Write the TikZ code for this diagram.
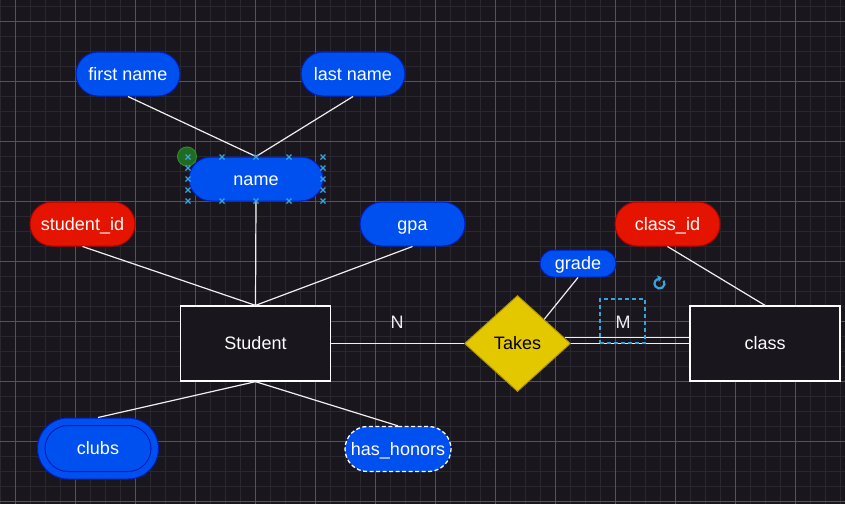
\documentclass[tikz,border=0pt]{standalone}
\usepackage{fontspec}
\setmainfont{Liberation Sans}
\usetikzlibrary{shapes.geometric,shapes.misc,calc,arrows.meta}
\definecolor{bg}{HTML}{19161E}
\definecolor{gridminor}{HTML}{2A282F}
\definecolor{gridmajor}{HTML}{55535A}
\definecolor{blfill}{HTML}{0050EF}
\definecolor{blstroke}{HTML}{001DBC}
\definecolor{rdfill}{HTML}{E51400}
\definecolor{rdstroke}{HTML}{B20000}
\definecolor{ylfill}{HTML}{E3C800}
\definecolor{ylstroke}{HTML}{B09500}
\definecolor{sel}{HTML}{3AA3DC}
\definecolor{edge}{HTML}{F0F0F0}
\definecolor{grfill}{HTML}{1F6B21}
\definecolor{grline}{HTML}{2E8A2F}
\begin{document}
\begin{tikzpicture}[x=1pt,y=-1pt,
  font=\fontsize{18}{21}\selectfont,
  txt/.style={text height=12.9pt, text depth=0pt},
  attr/.style={rounded rectangle, draw=blstroke, fill=blfill, line width=1pt, text=white,
    minimum width=104pt, minimum height=44pt, inner sep=0pt, txt},
  keyattr/.style={attr, draw=rdstroke, fill=rdfill},
  entity/.style={rectangle, draw=white, fill=bg, line width=1.3pt, minimum width=150pt,
    minimum height=75pt, text=white, inner sep=0pt, txt},
  rel/.style={diamond, draw=ylstroke, fill=ylfill, line width=1pt, minimum width=106pt,
    minimum height=96pt, text=black, inner sep=0pt, txt},
  conn/.style={draw=edge, line width=1.2pt},
  lbl/.style={text=edge, inner sep=0pt, txt},
  handle/.style={draw=sel, line width=1.2pt}
]
\fill[bg] (0,0) rectangle (845,504);
\useasboundingbox (0,0) rectangle (845,504);
% grid
\foreach \x in {0,15,...,840} \draw[gridminor, line width=0.9pt] (\x,0) -- (\x,504);
\foreach \y in {6,21,...,501} \draw[gridminor, line width=0.9pt] (0,\y) -- (845,\y);
\foreach \x in {15,75,...,795} \draw[gridmajor, line width=0.9pt] (\x,0) -- (\x,504);
\foreach \y in {21,81,...,501} \draw[gridmajor, line width=0.9pt] (0,\y) -- (845,\y);

% nodes
\node[attr] (fname) at (128,74) {first name};
\node[attr] (lname) at (353,74) {last name};
\node[attr, minimum width=134pt] (name) at (256,179) {name};
\node[keyattr, minimum width=105pt] (sid) at (82.5,224) {student\_id};
\node[attr, minimum width=105pt] (gpa) at (412.5,224) {gpa};
\node[keyattr, minimum width=105pt] (cid) at (667.5,224) {class\_id};
\node[attr, minimum width=76pt, minimum height=27pt] (grade) at (578,263.5) {grade};
\node[entity] (student) at (255.5,343.5) {Student};
\node[entity] (class) at (765,343.5) {class};
\node[rel] (takes) at (517.5,343.5) {Takes};
\node[attr, minimum width=121pt, minimum height=61pt] (clubs) at (98,448.5) {clubs};
\node[rounded rectangle, draw=blstroke, line width=1pt, minimum width=106pt,
  minimum height=46pt, inner sep=0pt] (clubsin) at (clubs.center) {};
\node[attr, draw=white, dash pattern=on 4pt off 2.5pt, line width=1.3pt,
  minimum width=106pt, minimum height=45pt] (hh) at (398,449) {has\_honors};

% connectors
\draw[conn] (fname.south) -- (name.north);
\draw[conn] (lname.south) -- (name.north);
\draw[conn] (name.south) -- (student.north);
\draw[conn] (sid.south) -- (student.north);
\draw[conn] (gpa.south) -- (student.north);
\draw[conn] (student.south) -- (clubs.north);
\draw[conn] (student.south) -- (hh.north);
\draw[conn] (student.east) -- (takes.west);
\draw[conn] (takes.east) -- (class.west);
\draw[conn] (takes.7) -- (class.west |- takes.7);
\draw[conn] (grade.south) -- (takes.north east);
\draw[conn] (cid.south) -- (class.north);

% labels
\node[lbl] (nlab) at (397,322) {N};
\node[lbl] (mlab) at (623,322) {M};
\node[draw=sel, dash pattern=on 4pt off 3pt, line width=1.1pt, minimum width=45pt,
  minimum height=44pt, inner sep=0pt] (msel) at (622.5,321) {};

% rotate icon
\coordinate (rot) at (659.5,283.5);
\draw[sel, line width=2.2pt] (rot) ++(35:5pt) arc[start angle=35, end angle=-250, radius=5pt];
\fill[sel] (661.9,277.6) -- (657.2,275.3) -- (658.8,282.0) -- cycle;

% selection handles around name
\fill[grfill, draw=grline, line width=1pt] (187,156.5) circle[radius=9.5pt];
\foreach \x in {188,222,256,289,323} {
  \foreach \y in {157,201} {
    \draw[handle] (\x-2.5,\y-2.5) -- (\x+2.5,\y+2.5) (\x-2.5,\y+2.5) -- (\x+2.5,\y-2.5);
  }
}
\foreach \x in {188,323} {
  \foreach \y in {168,179,190} {
    \draw[handle] (\x-2.5,\y-2.5) -- (\x+2.5,\y+2.5) (\x-2.5,\y+2.5) -- (\x+2.5,\y-2.5);
  }
}
\end{tikzpicture}
\end{document}
